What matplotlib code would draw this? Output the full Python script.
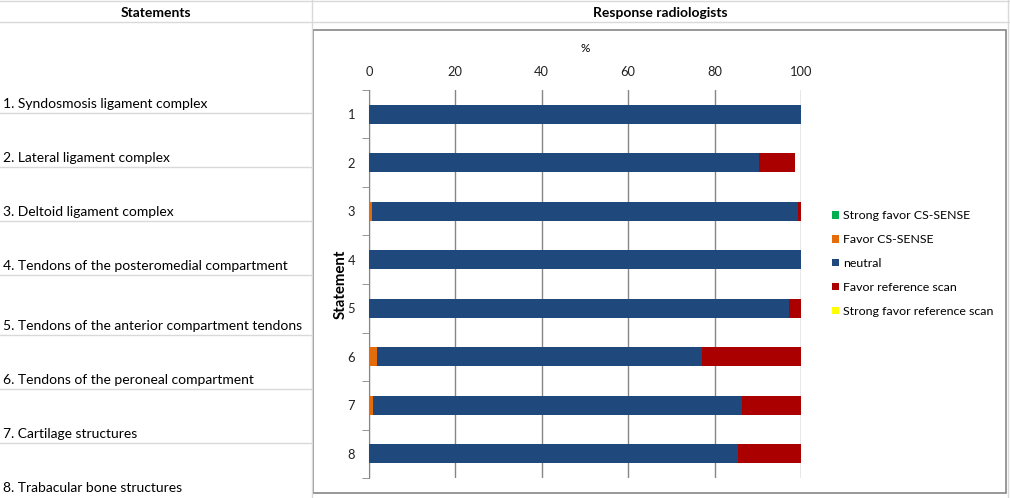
import matplotlib.pyplot as plt
from matplotlib.patches import Rectangle
from matplotlib.ticker import FixedLocator
import numpy as np

plt.rcParams['font.family'] = ['Lato', 'DejaVu Sans']

statements = ["1. Syndosmosis ligament complex",
              "2. Lateral ligament complex",
              "3. Deltoid ligament complex",
              "4. Tendons of the posteromedial compartment",
              "5. Tendons of the anterior compartment tendons",
              "6. Tendons of the peroneal compartment",
              "7. Cartilage structures",
              "8. Trabacular bone structures"]
cats = ["1", "2", "3", "4", "5", "6", "7", "8"]

strong_cs = [0, 0, 0, 0, 0, 0, 0, 0]
favor_cs = [0, 0, 0.6, 0, 0, 1.9, 1.0, 0]
neutral = [100, 90.3, 98.6, 100, 97.2, 75.2, 85.3, 85.4]
favor_ref = [0, 8.3, 0.8, 0, 2.8, 22.9, 13.7, 14.6]
strong_ref = [0, 0, 0, 0, 0, 0, 0, 0]

series = ["Strong favor CS-SENSE", "Favor CS-SENSE", "neutral",
          "Favor reference scan", "Strong favor reference scan"]
colors = ["#00B050", "#E46C0A", "#1F497D", "#AA0000", "#FFFF00"]

W, H = 1010, 498
fig = plt.figure(figsize=(W / 100, H / 100), dpi=100)

# background "table"
bg = fig.add_axes([0, 0, 1, 1])
bg.set_xlim(0, W)
bg.set_ylim(H, 0)
bg.axis('off')
grid_c = "#d9d9d9"
bg.plot([0, W], [22, 22], color=grid_c, lw=1)
bg.plot([0, W], [1, 1], color=grid_c, lw=1)
bg.plot([312, 312], [0, H], color=grid_c, lw=1)
bg.plot([1008, 1008], [0, H], color=grid_c, lw=1)
for yl in [113, 167, 221, 275, 335, 389, 443]:
    bg.plot([0, 312], [yl, yl], color=grid_c, lw=1)
bg.text(156, 13, "Statements", ha='center', va='center', fontsize=10, fontweight='bold')
bg.text(660, 13, "Response radiologists", ha='center', va='center', fontsize=10, fontweight='bold')
label_y = [108, 162, 216, 270, 330, 384, 438, 492]
for s, yy in zip(statements, label_y):
    bg.text(3, yy, s, ha='left', va='baseline', fontsize=10)
bg.add_patch(Rectangle((313, 30), 1006 - 313, 493 - 30, fill=False, edgecolor="#868686", lw=1.2))

# chart
ax = fig.add_axes([369 / W, (H - 478) / H, (801 - 369) / W, (478 - 90) / H])
ax.patch.set_alpha(0)
y = np.arange(len(cats))
left = np.zeros(len(cats))
handles = []
for name, vals, c in zip(series, [strong_cs, favor_cs, neutral, favor_ref, strong_ref], colors):
    b = ax.barh(y, vals, left=left, height=0.4, color=c, label=name, zorder=3)
    handles.append(b)
    left = left + np.array(vals)

ax.set_xlim(0, 100)
ax.set_ylim(7.5, -0.5)
ax.set_xticks([0, 20, 40, 60, 80, 100])
ax.xaxis.tick_top()
ax.xaxis.set_label_position('top')
ax.set_xlabel("%", fontsize=8.5, labelpad=10)
ax.tick_params(axis='x', length=0, pad=9, labelsize=9.3, colors='#222222')
ax.grid(axis='x', color='#868686', lw=1, zorder=0)
ax.set_yticks(y)
ax.set_yticklabels(cats)
ax.yaxis.set_minor_locator(FixedLocator(np.arange(-0.5, 8, 1)))
ax.tick_params(axis='y', which='major', length=0, pad=10, labelsize=9.3, colors='#222222')
ax.tick_params(axis='y', which='minor', length=5, color='#868686')
ax.set_ylabel("Statement", fontsize=10.8, fontweight='bold', labelpad=0)
for sp in ['top', 'right', 'bottom']:
    ax.spines[sp].set_visible(False)
ax.spines['left'].set_color('#868686')

fig.legend(handles=handles, loc='upper left', bbox_to_anchor=(826 / W, 1 - 204 / H),
           frameon=False, fontsize=8.9, handlelength=0.55, handleheight=0.55,
           handletextpad=0.35, labelspacing=1.05, borderpad=0)

fig.savefig("out.png", dpi=100)
